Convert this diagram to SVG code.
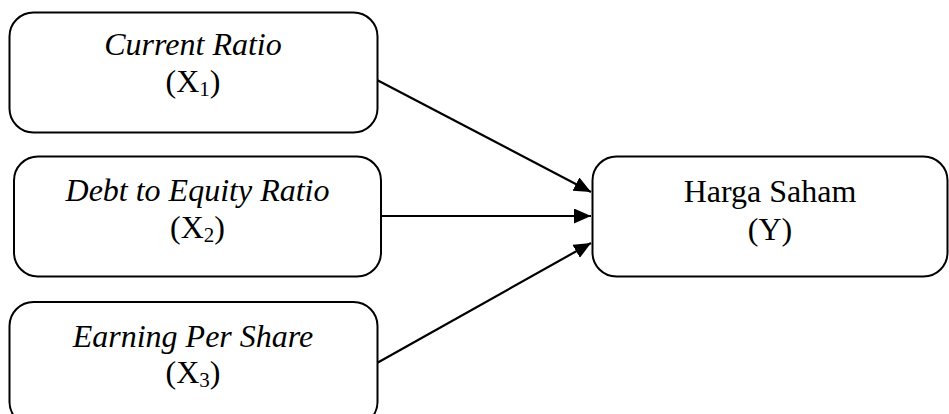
<svg xmlns="http://www.w3.org/2000/svg" width="949" height="414" viewBox="0 0 949 414">
  <style>
    .box { fill: #ffffff; stroke: #000000; stroke-width: 2; }
    .lbl { font-family: "Liberation Serif", "Times New Roman", serif; font-size: 32px; fill: #000000; text-anchor: middle; }
    .it { font-style: italic; }
    .sub { font-size: 21px; }
    .conn { stroke: #000000; stroke-width: 2.2; fill: none; marker-end: url(#arrow); }
  </style>
  <defs>
    <marker id="arrow" markerUnits="userSpaceOnUse" markerWidth="18" markerHeight="16" refX="17" refY="7.5" orient="auto">
      <path d="M0,0 L17,7.5 L0,15 Z" fill="#000000"/>
    </marker>
  </defs>
  <rect width="949" height="414" fill="#ffffff"/>

  <g id="connectors">
    <line class="conn" x1="377" y1="80" x2="591" y2="192"/>
    <line class="conn" x1="381" y1="216" x2="591" y2="216"/>
    <line class="conn" x1="377" y1="363" x2="591" y2="243"/>
  </g>

  <g id="current-ratio">
    <rect class="box" x="9.5" y="12.5" width="368" height="120" rx="24" ry="24"/>
    <text class="lbl it" x="193" y="55">Current Ratio</text>
    <text class="lbl" x="193" y="92">(X<tspan class="sub" dy="4">1</tspan><tspan dy="-4">)</tspan></text>
  </g>

  <g id="debt-to-equity">
    <rect class="box" x="14" y="156.5" width="367" height="120" rx="24" ry="24"/>
    <text class="lbl it" x="197.5" y="201">Debt to Equity Ratio</text>
    <text class="lbl" x="197.5" y="238">(X<tspan class="sub" dy="4">2</tspan><tspan dy="-4">)</tspan></text>
  </g>

  <g id="earning-per-share">
    <rect class="box" x="9.5" y="302" width="368" height="124" rx="24" ry="24"/>
    <text class="lbl it" x="193" y="347">Earning Per Share</text>
    <text class="lbl" x="193" y="383">(X<tspan class="sub" dy="4">3</tspan><tspan dy="-4">)</tspan></text>
  </g>

  <g id="harga-saham">
    <rect class="box" x="592.5" y="156.5" width="355" height="120" rx="24" ry="24"/>
    <text class="lbl" x="770" y="202">Harga Saham</text>
    <text class="lbl" x="770" y="240">(Y)</text>
  </g>
</svg>
